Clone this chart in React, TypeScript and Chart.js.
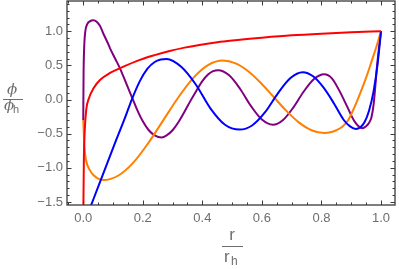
import React, { useEffect, useRef } from "react";
import { Chart, registerables } from "chart.js";

Chart.register(...registerables);

const redX = [0, 0.002, 0.005, 0.01, 0.02, 0.035, 0.057, 0.09, 0.124, 0.19, 0.24, 0.29, 0.34, 0.39, 0.45, 0.5, 0.6, 0.7, 0.8, 0.9, 1.0];
const redY = [-1.8, -0.9, -0.45, -0.15, 0.03, 0.17, 0.29, 0.39, 0.46, 0.58, 0.65, 0.71, 0.76, 0.8, 0.84, 0.865, 0.905, 0.94, 0.965, 0.985, 1.0];

const blueX = [0.02, 0.05, 0.08, 0.11, 0.14, 0.163, 0.19, 0.215, 0.24, 0.26, 0.28, 0.329, 0.378, 0.427, 0.476, 0.525, 0.567, 0.61, 0.652, 0.695, 0.737, 0.772, 0.806, 0.841, 0.875, 0.895, 0.915, 0.93, 0.945, 0.96, 0.975, 0.988, 1.0];
const blueY = [-1.62, -1.28, -0.94, -0.6, -0.27, 0.0, 0.27, 0.45, 0.55, 0.585, 0.595, 0.48, 0.22, -0.13, -0.37, -0.44, -0.38, -0.19, 0.08, 0.31, 0.4, 0.34, 0.18, -0.05, -0.3, -0.39, -0.43, -0.41, -0.33, -0.16, 0.12, 0.5, 1.0];

const orangeX = [0, 0.004, 0.01, 0.02, 0.035, 0.05, 0.068, 0.118, 0.168, 0.218, 0.2685, 0.319, 0.369, 0.419, 0.469, 0.5115, 0.554, 0.5965, 0.639, 0.6815, 0.724, 0.7665, 0.809, 0.83, 0.85, 0.87, 0.89, 0.91, 0.93, 0.95, 0.97, 0.985, 1.0];
const orangeY = [-0.3, -0.7, -0.9, -1.02, -1.11, -1.16, -1.18, -1.113, -0.924, -0.64, -0.305, 0.03, 0.314, 0.504, 0.57, 0.53, 0.415, 0.243, 0.04, -0.163, -0.335, -0.45, -0.49, -0.48, -0.45, -0.4, -0.3, -0.12, 0.09, 0.32, 0.58, 0.78, 1.0];

const purpleX = [0, 0.001, 0.003, 0.007, 0.013, 0.022, 0.034, 0.045, 0.056, 0.068, 0.08, 0.09, 0.107, 0.124, 0.143, 0.163, 0.183, 0.2, 0.22, 0.24, 0.263, 0.28, 0.3, 0.32, 0.34, 0.36, 0.38, 0.4, 0.42, 0.436, 0.453, 0.49, 0.527, 0.563, 0.6, 0.637, 0.671, 0.706, 0.74, 0.775, 0.809, 0.835, 0.86, 0.886, 0.911, 0.937, 0.95, 0.96, 0.968, 0.975, 0.981, 0.986, 0.993, 1.0];
const purpleY = [-0.3, 0.35, 0.75, 1.0, 1.1, 1.145, 1.16, 1.14, 1.08, 0.96, 0.85, 0.75, 0.6, 0.45, 0.25, 0.04, -0.17, -0.32, -0.45, -0.525, -0.555, -0.525, -0.45, -0.33, -0.18, -0.02, 0.13, 0.27, 0.37, 0.415, 0.43, 0.354, 0.154, -0.094, -0.294, -0.37, -0.3, -0.114, 0.114, 0.3, 0.37, 0.31, 0.13, -0.1, -0.32, -0.42, -0.39, -0.34, -0.26, -0.08, 0.2, 0.46, 0.75, 1.0];

const xMajorTicks = [0, 0.2, 0.4, 0.6, 0.8, 1.0];
const yMajorTicks = [-1.5, -1.0, -0.5, 0.0, 0.5, 1.0];

const X_MIN = -0.0546;
const X_MAX = 1.047;
const Y_MIN = -1.545;
const Y_MAX = 1.443;

const FRAME = "#3a3a3a";
const LABEL = "#6e6e6e";

const fmt = (v: number) => {
  const s = Math.abs(v).toFixed(1);
  return v < -1e-9 ? "\u2212" + s : s;
};

const zip = (xs: number[], ys: number[]) => xs.map((x, i) => ({ x, y: ys[i] }));

const framePlugin = {
  id: "frame",
  afterDraw(chart: any) {
    const { ctx, chartArea } = chart;
    const xs = chart.scales.x;
    const ys = chart.scales.y;
    const { left, right, top, bottom } = chartArea;
    ctx.save();
    ctx.strokeStyle = FRAME;
    ctx.lineWidth = 1.3;
    ctx.strokeRect(left, top, right - left, bottom - top);
    ctx.lineWidth = 1;
    ctx.beginPath();
    for (let i = -1; i <= 21; i++) {
      const v = i * 0.05;
      if (v < X_MIN || v > X_MAX) continue;
      const major = i % 4 === 0 && i >= 0;
      const len = major ? 4.5 : 2.5;
      const px = Math.round(xs.getPixelForValue(v)) + 0.5;
      ctx.moveTo(px, bottom);
      ctx.lineTo(px, bottom - len);
      ctx.moveTo(px, top);
      ctx.lineTo(px, top + len);
    }
    for (let i = -15; i <= 14; i++) {
      const v = i * 0.1;
      if (v < Y_MIN || v > Y_MAX) continue;
      const major = i % 5 === 0;
      const len = major ? 4.5 : 2.5;
      const py = Math.round(ys.getPixelForValue(v)) + 0.5;
      ctx.moveTo(left, py);
      ctx.lineTo(left + len, py);
      ctx.moveTo(right, py);
      ctx.lineTo(right - len, py);
    }
    ctx.stroke();

    ctx.fillStyle = LABEL;
    ctx.strokeStyle = LABEL;
    ctx.textAlign = "center";
    ctx.textBaseline = "alphabetic";
    ctx.font = "italic 15px 'DejaVu Serif'";
    ctx.fillText("\u03d5", 12, 94);
    ctx.beginPath();
    ctx.lineWidth = 1;
    ctx.moveTo(3, 99.5);
    ctx.lineTo(23, 99.5);
    ctx.stroke();
    ctx.textAlign = "left";
    ctx.fillText("\u03d5", 4, 110);
    ctx.font = "11px 'Liberation Sans'";
    ctx.fillText("h", 13, 113);
    ctx.textAlign = "center";
    ctx.font = "17px 'Liberation Sans'";
    ctx.fillText("r", 232, 240);
    ctx.beginPath();
    ctx.moveTo(222, 246.5);
    ctx.lineTo(243, 246.5);
    ctx.stroke();
    ctx.textAlign = "left";
    ctx.fillText("r", 224, 262);
    ctx.font = "12px 'Liberation Sans'";
    ctx.fillText("h", 231, 265);
    ctx.restore();
  },
};

export default function App() {
  const ref = useRef<HTMLCanvasElement | null>(null);
  useEffect(() => {
    if (!ref.current) return;
    const mk = (label: string, xs: number[], ys: number[], color: string) => ({
      label,
      data: zip(xs, ys),
      borderColor: color,
      backgroundColor: color,
      borderWidth: 2,
      pointRadius: 0,
      fill: false,
      cubicInterpolationMode: "monotone" as const,
    });
    const chart = new Chart(ref.current, {
      type: "line",
      data: {
        datasets: [
          mk("red", redX, redY, "#ff0000"),
          mk("blue", blueX, blueY, "#0000ff"),
          mk("orange", orangeX, orangeY, "#ff8000"),
          mk("purple", purpleX, purpleY, "#800080"),
        ],
      },
      plugins: [framePlugin],
      options: {
        responsive: false,
        animation: false,
        layout: { padding: { top: 1, right: 4, left: 0, bottom: 0 } },
        plugins: { legend: { display: false }, tooltip: { enabled: false } },
        scales: {
          x: {
            type: "linear",
            min: X_MIN,
            max: X_MAX,
            grid: { display: false, drawTicks: false },
            border: { display: false },
            afterBuildTicks: (s: any) => {
              s.ticks = xMajorTicks.map((v) => ({ value: v }));
            },
            afterFit: (s: any) => {
              s.height = 64;
              s.paddingLeft = 0;
              s.paddingRight = 0;
            },
            ticks: {
              autoSkip: false,
              maxRotation: 0,
              padding: 6,
              color: LABEL,
              font: { family: "'Liberation Sans'", size: 13 },
              callback: (v: any) => fmt(Number(v)),
            },
          },
          y: {
            type: "linear",
            min: Y_MIN,
            max: Y_MAX,
            grid: { display: false, drawTicks: false },
            border: { display: false },
            afterBuildTicks: (s: any) => {
              s.ticks = yMajorTicks.map((v) => ({ value: v }));
            },
            afterFit: (s: any) => {
              s.width = 67;
              s.paddingTop = 0;
              s.paddingBottom = 0;
            },
            ticks: {
              autoSkip: false,
              padding: 4,
              color: LABEL,
              font: { family: "'Liberation Sans'", size: 13 },
              callback: (v: any) => fmt(Number(v)),
            },
          },
        },
      },
    });
    return () => chart.destroy();
  }, []);
  return (
    <div style={{ position: "absolute", left: 0, top: 0, width: 399, height: 269 }}>
      <canvas ref={ref} width={399} height={269} />
    </div>
  );
}
